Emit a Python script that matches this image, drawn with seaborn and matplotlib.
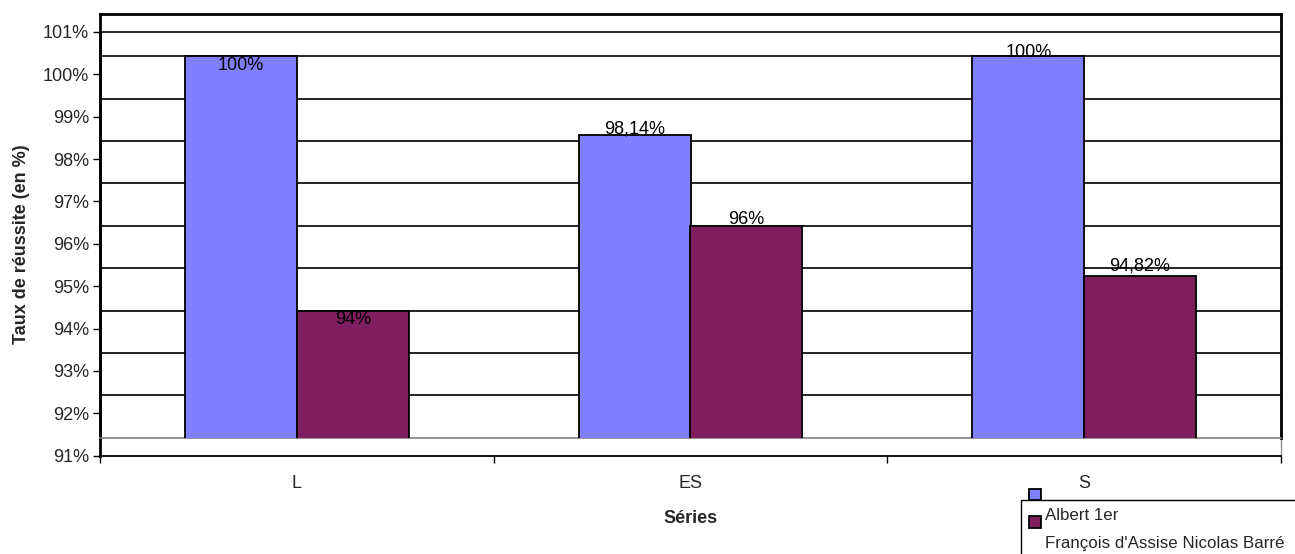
import pandas as pd
import matplotlib
matplotlib.use('Agg')
import matplotlib.pyplot as plt
import seaborn as sns
from matplotlib.patches import Rectangle, Patch
from matplotlib.legend_handler import HandlerPatch
from matplotlib.ticker import FuncFormatter

# données
series = ['L', 'ES', 'S']
lycees = ['Albert 1er', "François d'Assise Nicolas Barré"]
taux_albert = [100, 98.14, 100]
taux_barre = [94, 96, 94.82]
etiquettes_albert = ['100%', '98,14%', '100%']
etiquettes_barre = ['94%', '96%', '94,82%']

couleurs = {lycees[0]: '#8080FF', lycees[1]: '#7F1F5F'}

df = pd.DataFrame({
    'Série': series * 2,
    'Lycée': [lycees[0]] * 3 + [lycees[1]] * 3,
    'Taux': taux_albert + taux_barre,
})
etiquettes = etiquettes_albert + etiquettes_barre

# décalage vertical des étiquettes (pixels, par rapport au haut de la barre)
decalage_etiq = [-18, -2, -5, -17, -2.5, 1.5]

sns.set_theme(style='white')
plt.rcParams['font.family'] = ['Liberation Sans', 'DejaVu Sans']
FS = 13
FS_LEG = 12.2

W, H = 1295, 554
fig = plt.figure(figsize=(W / 100, H / 100), dpi=100)
fig.patch.set_facecolor('white')

x0, x1 = 100, 1281
prof = 18  # effet 3D : le fond est décalé vers le haut
y_bas, y_haut = 455.7, 32

# axe principal (graduations)
ax = fig.add_axes([x0 / W, (H - y_bas) / H, (x1 - x0) / W, (y_bas - y_haut) / H])
# paroi du fond (barres + quadrillage)
ax2 = fig.add_axes([x0 / W, (H - y_bas + prof) / H, (x1 - x0) / W, (y_bas - y_haut) / H])
ax2.patch.set_alpha(0)

sns.barplot(data=df, x='Série', y='Taux', hue='Lycée', order=series, hue_order=lycees,
            palette=couleurs, width=0.568, edgecolor='black', linewidth=1.3,
            saturation=1, ax=ax2, legend=False, zorder=3)
ax2.set_ylim(91, 101)
ax2.set_xlim(-0.5, 2.5)
ax2.set_yticks(range(92, 101))
ax2.yaxis.grid(True, color='black', linewidth=1.2)
ax2.set_axisbelow(True)
ax2.tick_params(left=False, bottom=False, labelleft=False, labelbottom=False)
ax2.set_xlabel('')
ax2.set_ylabel('')
for s in ['top', 'left', 'right']:
    ax2.spines[s].set_visible(True)
    ax2.spines[s].set_color('black')
    ax2.spines[s].set_linewidth(2)
ax2.spines['bottom'].set_color('#808080')
ax2.spines['bottom'].set_linewidth(1.2)

for p, txt, dy in zip(ax2.patches, etiquettes, decalage_etiq):
    ax2.annotate(txt, (p.get_x() + p.get_width() / 2, p.get_height()),
                 xytext=(0, dy), textcoords='offset pixels',
                 ha='center', va='bottom', fontsize=FS, color='black',
                 annotation_clip=False, zorder=5)

ax.set_ylim(91, 101)
ax.set_xlim(-0.5, 2.5)
ax.set_yticks(range(91, 102))
ax.yaxis.set_major_formatter(FuncFormatter(lambda v, _: f'{int(v)}%'))
ax.set_xticks([-0.5, 0.5, 1.5, 2.5])
ax.set_xticklabels([])
ax.set_xticks(range(len(series)), minor=True)
ax.set_xticklabels(series, minor=True)
ax.tick_params(axis='y', which='major', left=True, length=5, width=1, color='black',
               labelsize=FS, pad=3)
ax.tick_params(axis='x', which='major', bottom=True, length=5, width=1, color='black')
ax.tick_params(axis='x', which='minor', bottom=False, length=0, labelsize=FS, pad=14)
ax.spines['left'].set_linewidth(2)
ax.spines['left'].set_color('black')
ax.spines['bottom'].set_linewidth(1.3)
ax.spines['bottom'].set_color('black')
ax.spines['top'].set_linewidth(1.2)
ax.spines['top'].set_color('black')
ax.spines['right'].set_linewidth(1)
ax.spines['right'].set_color('#909090')
ax.set_xlabel('Séries', fontsize=FS, fontweight='bold', labelpad=13)
ax.set_ylabel('Taux de réussite (en %)', fontsize=FS, fontweight='bold', labelpad=9)


def carre_decale(legend, orig_handle, xdescent, ydescent, width, height, fontsize):
    cote = 8.4
    return Rectangle((-xdescent, -ydescent + 14.6), cote, cote)


# cadre de la légende, qui déborde de l'image à droite et en bas
fig.add_artist(Rectangle((1021 / W, -0.1), 0.5, 0.1 + (H - 500) / H,
                         transform=fig.transFigure, fill=False,
                         edgecolor='black', linewidth=1))

handles = [Patch(facecolor=couleurs[l], edgecolor='black', linewidth=1.3) for l in lycees]
leg = fig.legend(handles, lycees, loc='upper left',
                 bbox_to_anchor=(1021 / W, 1 - 500 / H), bbox_transform=fig.transFigure,
                 fontsize=FS_LEG, frameon=False, borderpad=0.5, handlelength=0.69,
                 handletextpad=0.25, labelspacing=0.74, borderaxespad=0,
                 handler_map={Patch: HandlerPatch(patch_func=carre_decale)})

fig.savefig('out.png', dpi=100)
